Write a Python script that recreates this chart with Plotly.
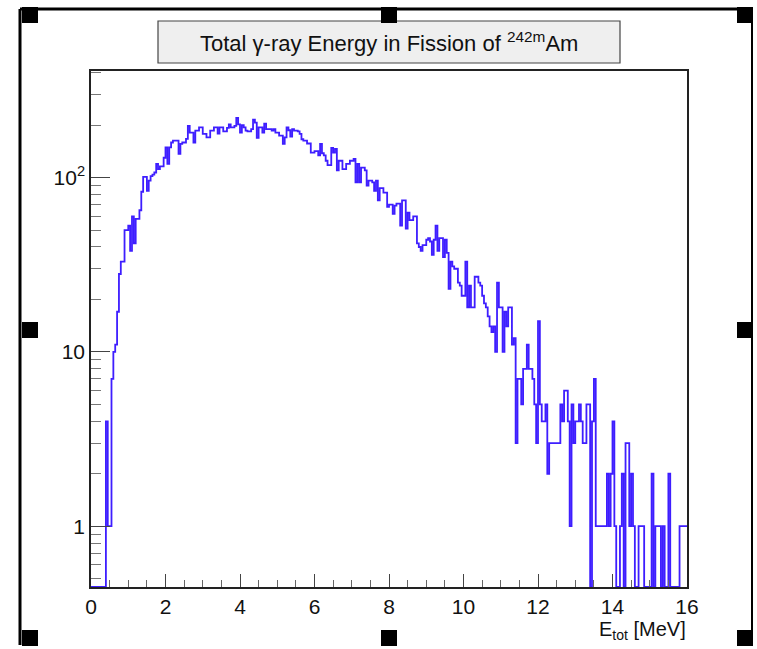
import numpy as np
import plotly.graph_objects as go

# ---------------- data (counts per 0.05 MeV bin, 0..16 MeV) ----------------
bin_width = 0.05
x_start = 0.0

counts_00_01 = [0, 0, 0, 0, 0, 0, 0, 0, 4, 1, 1, 7, 10, 11, 17, 28, 33, 33, 50, 50]
counts_01_02 = [53, 38, 60, 42, 58, 58, 65, 83, 101, 101, 84, 96, 102, 104, 107, 120, 112, 116, 116, 130]
counts_02_03 = [149, 120, 149, 159, 163, 163, 163, 137, 156, 159, 159, 167, 198, 181, 181, 159, 186, 186, 194, 194]
counts_03_04 = [178, 178, 170, 170, 186, 186, 194, 194, 179, 194, 194, 184, 184, 193, 202, 194, 194, 198, 220, 202]
counts_04_05 = [181, 200, 194, 186, 184, 184, 190, 215, 207, 169, 194, 194, 181, 204, 190, 190, 190, 186, 190, 181]
counts_05_06 = [181, 174, 174, 156, 170, 194, 187, 172, 190, 186, 186, 184, 178, 166, 163, 163, 157, 157, 139, 139]
counts_06_07 = [142, 142, 134, 156, 138, 134, 125, 118, 118, 148, 139, 146, 110, 125, 125, 112, 112, 120, 120, 125]
counts_07_08 = [125, 128, 94, 120, 94, 114, 114, 110, 90, 96, 96, 94, 84, 96, 74, 87, 87, 82, 82, 68]
counts_08_09 = [70, 70, 62, 69, 71, 71, 53, 74, 74, 51, 63, 57, 57, 60, 60, 42, 40, 38, 41, 41]
counts_09_10 = [44, 45, 43, 36, 44, 53, 38, 45, 45, 35, 44, 37, 23, 33, 31, 30, 30, 25, 24, 21]
counts_10_11 = [21, 33, 18, 24, 18, 18, 27, 27, 25, 24, 21, 19, 18, 16, 14, 13, 14, 10, 25, 18]
counts_11_12 = [18, 10, 17, 14, 18, 18, 11, 12, 3, 7, 7, 5, 8, 8, 11, 8, 8, 7, 5, 3]
counts_12_13 = [15, 5, 4, 4, 5, 2, 3, 3, 3, 3, 3, 3, 5, 4, 6, 6, 4, 1, 5, 3]
counts_13_14 = [4, 4, 5, 4, 3, 3, 5, 5, 0, 4, 7, 1, 1, 1, 1, 1, 1, 2, 1, 2]
counts_14_15 = [4, 1, 0, 0, 1, 2, 0, 3, 3, 1, 2, 1, 0, 0, 1, 1, 1, 0, 0, 0]
counts_15_16 = [0, 2, 0, 1, 1, 1, 0, 1, 0, 0, 2, 0, 0, 0, 0, 0, 1, 1, 1, 1]

x_tick_vals = [0, 2, 4, 6, 8, 10, 12, 14, 16]
x_tick_text = ["0", "2", "4", "6", "8", "10", "12", "14", "16"]
y_tick_vals = [1, 10, 100]
y_tick_text = ["1", "10", "10<sup>2</sup>"]

title_text = "Total \u03b3-ray Energy in Fission of <sup>242m</sup>Am"
x_title = "E<sub>tot</sub> [MeV]"

# ---------------- build ----------------
counts = np.array(counts_00_01 + counts_01_02 + counts_02_03 + counts_03_04 +
                  counts_04_05 + counts_05_06 + counts_06_07 + counts_07_08 +
                  counts_08_09 + counts_09_10 + counts_10_11 + counts_11_12 +
                  counts_12_13 + counts_13_14 + counts_14_15 + counts_15_16, dtype=float)
edges = x_start + bin_width * np.arange(len(counts) + 1)

y_min, y_max = 0.448, 409.0
y_plot = np.maximum(counts, y_min)           # empty bins drawn on the frame bottom (ROOT style)
y_plot = np.append(y_plot, y_plot[-1])

W, H = 757, 649
L, R, T, B = 91, 687, 71, 587


def px(x):
    return (x - L) / (R - L)


def py(y):
    return (B - y) / (B - T)


FONT = "Liberation Sans Narrow, Arial Narrow, Liberation Sans, Arial, sans-serif"
LINE_COLOR = "rgb(62,30,255)"

fig = go.Figure()
fig.add_trace(go.Scatter(x=edges, y=y_plot, mode="lines", line=dict(color=LINE_COLOR, width=1.8, shape="hv"),
                         hoverinfo="skip", showlegend=False))

x_minor = [v * 0.5 for v in range(0, 33) if v % 4 != 0]
y_minor = [0.5, 0.6, 0.7, 0.8, 0.9] + list(range(2, 10)) + list(range(20, 100, 10)) + [200, 300, 400]

fig.update_layout(
    width=W, height=H,
    margin=dict(l=L, r=W - R, t=T, b=H - B, pad=0),
    paper_bgcolor="white", plot_bgcolor="white",
    font=dict(family=FONT, color="#111", size=21),
    xaxis=dict(range=[0, 16], tickmode="array", tickvals=x_tick_vals, ticktext=x_tick_text,
               ticks="inside", ticklen=13, tickwidth=1, tickcolor="#444",
               minor=dict(tickmode="array", tickvals=x_minor, ticks="inside", ticklen=7, tickwidth=1, tickcolor="#666"),
               showline=True, linecolor="#222", linewidth=1.5, mirror=True,
               showgrid=False, zeroline=False, tickfont=dict(size=21, family=FONT)),
    yaxis=dict(type="log", range=[np.log10(y_min), np.log10(y_max)], tickmode="array",
               tickvals=y_tick_vals, ticktext=y_tick_text,
               ticks="inside", ticklen=19, tickwidth=1, tickcolor="#444",
               minor=dict(tickmode="array", tickvals=y_minor, ticks="inside", ticklen=10, tickwidth=1, tickcolor="#777"),
               showline=True, linecolor="#222", linewidth=1.5, mirror=True,
               showgrid=False, zeroline=False, tickfont=dict(size=21, family=FONT)),
)

shapes = []
# title box
shapes.append(dict(type="rect", xref="paper", yref="paper", x0=px(158), x1=px(620), y0=py(63), y1=py(21),
                   fillcolor="#efefef", line=dict(color="#444", width=1.2), layer="above"))
# outer border lines
shapes.append(dict(type="line", xref="paper", yref="paper", x0=px(20), x1=px(752), y0=py(9), y1=py(9),
                   line=dict(color="black", width=3)))
shapes.append(dict(type="line", xref="paper", yref="paper", x0=px(20), x1=px(20), y0=py(9), y1=py(645),
                   line=dict(color="black", width=3)))
shapes.append(dict(type="line", xref="paper", yref="paper", x0=px(752), x1=px(752), y0=py(9), y1=py(645),
                   line=dict(color="black", width=2)))
# selection handles
for cx, cy in [(30, 15), (389, 15), (745, 15), (30, 330), (745, 330), (30, 638), (389, 638), (745, 638)]:
    shapes.append(dict(type="rect", xref="paper", yref="paper", x0=px(cx - 8), x1=px(cx + 8),
                       y0=py(cy + 8), y1=py(cy - 8), fillcolor="black", line=dict(width=0)))
fig.update_layout(shapes=shapes)

fig.add_annotation(text=title_text, xref="paper", yref="paper", x=px(389), y=py(42),
                   showarrow=False, xanchor="center", yanchor="middle",
                   font=dict(size=22, family=FONT, color="#111"))
fig.add_annotation(text=x_title, xref="paper", yref="paper", x=px(688), y=py(630),
                   showarrow=False, xanchor="right", yanchor="middle",
                   font=dict(size=20, family=FONT, color="#111"))

fig.write_html("out.html")
